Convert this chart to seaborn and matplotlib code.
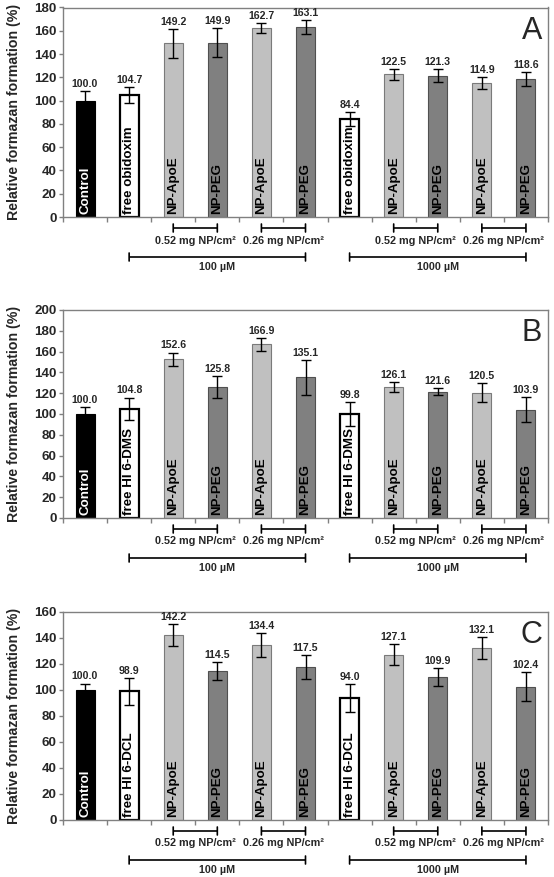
import numpy as np
import pandas as pd
import matplotlib
matplotlib.use("Agg")
import matplotlib.pyplot as plt
import matplotlib.transforms as mtransforms
import seaborn as sns

# ---------------- data ----------------
slots = ["c0", "c1", "c2", "c3", "c4", "c5", "c6", "c7", "c8", "c9", "c10"]
kinds = ["control", "free", "apoe", "peg", "apoe", "peg", "free", "apoe", "peg", "apoe", "peg"]

names_A = ["Control", "free obidoxim", "NP-ApoE", "NP-PEG", "NP-ApoE", "NP-PEG",
           "free obidoxim", "NP-ApoE", "NP-PEG", "NP-ApoE", "NP-PEG"]
names_B = ["Control", "free HI 6-DMS", "NP-ApoE", "NP-PEG", "NP-ApoE", "NP-PEG",
           "free HI 6-DMS", "NP-ApoE", "NP-PEG", "NP-ApoE", "NP-PEG"]
names_C = ["Control", "free HI 6-DCL", "NP-ApoE", "NP-PEG", "NP-ApoE", "NP-PEG",
           "free HI 6-DCL", "NP-ApoE", "NP-PEG", "NP-ApoE", "NP-PEG"]

values_A = [100.0, 104.7, 149.2, 149.9, 162.7, 163.1, 84.4, 122.5, 121.3, 114.9, 118.6]
err_A = [8.0, 6.8, 12.3, 12.4, 4.2, 6.0, 6.0, 5.0, 5.6, 5.1, 6.2]
values_B = [100.0, 104.8, 152.6, 125.8, 166.9, 135.1, 99.8, 126.1, 121.6, 120.5, 103.9]
err_B = [6.5, 11.0, 6.5, 10.5, 6.0, 16.5, 11.5, 4.5, 3.8, 9.3, 12.0]
values_C = [100.0, 98.9, 142.2, 114.5, 134.4, 117.5, 94.0, 127.1, 109.9, 132.1, 102.4]
err_C = [5.0, 10.2, 8.6, 6.8, 9.3, 9.1, 10.6, 8.1, 7.0, 8.4, 11.2]

ymax_A, ymax_B, ymax_C = 180, 200, 160
panel_letters = ["A", "B", "C"]

dose_labels = ["0.52 mg NP/cm²", "0.26 mg NP/cm²", "0.52 mg NP/cm²", "0.26 mg NP/cm²"]
dose_spans = [(2, 3), (4, 5), (7, 8), (9, 10)]
conc_labels = ["100 µM", "1000 µM"]
conc_spans = [(1, 5), (6, 10)]

ylabel = "Relative formazan formation (%)"

# ---------------- style ----------------
sns.set_style("white")
plt.rcParams["font.family"] = ["Liberation Sans", "DejaVu Sans"]

fill = {"control": "#000000", "free": "#ffffff", "apoe": "#c0c0c0", "peg": "#808080"}
edge = {"control": "#000000", "free": "#000000", "apoe": "#7a7a7a", "peg": "#505050"}
elw = {"control": 0.8, "free": 1.6, "apoe": 0.8, "peg": 0.8}
txtcol = {"control": "white", "free": "black", "apoe": "black", "peg": "black"}

fig = plt.figure(figsize=(5.54, 8.77), dpi=100)
W, H = 554, 877
left_px, right_px = 63, 548
panels = [
    (names_A, values_A, err_A, ymax_A, 7.5, 217),
    (names_B, values_B, err_B, ymax_B, 310, 518),
    (names_C, values_C, err_C, ymax_C, 612, 820),
]

spine_col = "#808080"

for pi, (names, vals, errs, ymax, top_px, bot_px) in enumerate(panels):
    ax = fig.add_axes([left_px / W, (H - bot_px) / H, (right_px - left_px) / W, (bot_px - top_px) / H])
    df = pd.DataFrame({"slot": slots, "value": vals, "kind": kinds})
    pal = {s: fill[k] for s, k in zip(slots, kinds)}
    sns.barplot(data=df, x="slot", y="value", hue="slot", palette=pal, order=slots,
                hue_order=slots, width=0.43, legend=False, ax=ax, saturation=1, errorbar=None)
    patches = sorted(ax.patches, key=lambda p: p.get_x())
    for p, k in zip(patches, kinds):
        p.set_edgecolor(edge[k])
        p.set_linewidth(elw[k])

    xs = np.arange(len(slots))
    ax.errorbar(xs, vals, yerr=errs, fmt="none", ecolor="black", elinewidth=1.0,
                capsize=3.5, capthick=1.0, zorder=5)

    for x, v, e in zip(xs, vals, errs):
        ax.annotate(f"{v:.1f}", (x, v + e), xytext=(0, 1.5), textcoords="offset points",
                    ha="center", va="bottom", fontsize=7.6, fontweight="bold")
    for x, n, k in zip(xs, names, kinds):
        ax.annotate(n, (x, 0), xytext=(0, 2.5), textcoords="offset points", rotation=90,
                    ha="center", va="bottom", fontsize=9.6, fontweight="bold",
                    color=txtcol[k], zorder=6)

    ax.set_xlim(-0.5, len(slots) - 0.5)
    ax.set_ylim(0, ymax)
    ax.set_yticks(np.arange(0, ymax + 1, 20))
    ax.set_xticks(np.arange(-0.5, len(slots), 1.0))
    ax.set_xticklabels([])
    ax.set_xlabel("")
    ax.tick_params(axis="x", length=3.5, width=1, color=spine_col, direction="out", bottom=True)
    ax.tick_params(axis="y", length=3, width=1, color=spine_col, direction="out", left=True,
                   pad=1.5, labelsize=9.6)
    for lab in ax.get_yticklabels():
        lab.set_fontweight("bold")
    for sp in ax.spines.values():
        sp.set_visible(True)
        sp.set_color(spine_col)
        sp.set_linewidth(1.0)

    ax.set_ylabel(ylabel, fontsize=10.2, fontweight="bold")
    ax.yaxis.set_label_coords(-0.087, 0.5)

    ax.text(0.988, 0.96, panel_letters[pi], transform=ax.transAxes, ha="right", va="top",
            fontsize=22)

    def tr(px, ax=ax):
        return ax.get_xaxis_transform() + mtransforms.ScaledTranslation(0, -px / 100.0, fig.dpi_scale_trans)

    def bracket(a, b, ypx, ax=ax):
        ax.plot([a, b], [0, 0], color="black", lw=1.2, transform=tr(ypx), clip_on=False,
                solid_capstyle="butt")
        for xx in (a, b):
            ax.annotate("", xy=(xx, 0), xycoords=tr(ypx - 4), xytext=(xx, 0),
                        textcoords=tr(ypx + 4),
                        arrowprops=dict(arrowstyle="-", color="black", lw=1.2,
                                        shrinkA=0, shrinkB=0))

    for (a, b), lab in zip(dose_spans, dose_labels):
        bracket(a, b, 11)
        ax.text((a + b) / 2, 0, lab, transform=tr(23.5), ha="center", va="center",
                fontsize=7.8, fontweight="bold")
    for (a, b), lab in zip(conc_spans, conc_labels):
        bracket(a, b, 40)
        ax.text((a + b) / 2, 0, lab, transform=tr(50), ha="center", va="center",
                fontsize=7.7, fontweight="bold")

fig.savefig("out.png", dpi=100)
